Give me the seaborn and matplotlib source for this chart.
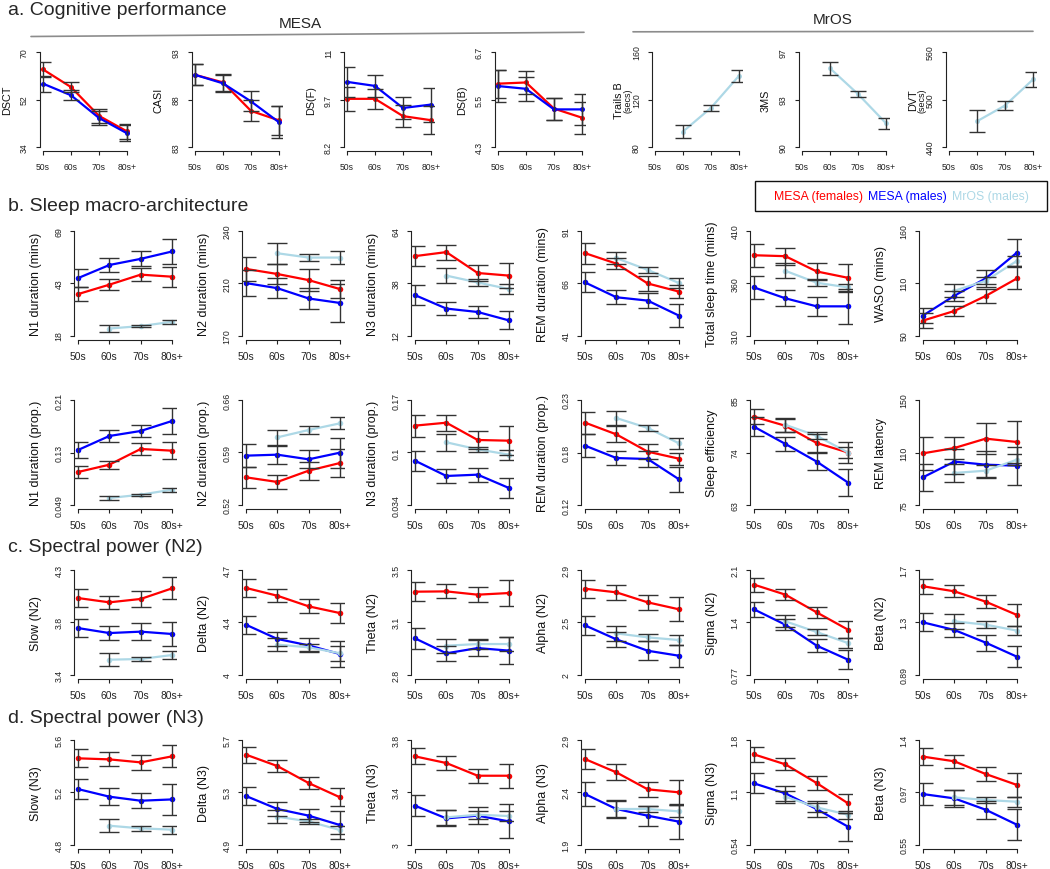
"""Age trends in cognition, sleep macro-architecture and spectral power (MESA / MrOS)."""

import matplotlib

matplotlib.use("Agg")

import matplotlib.pyplot as plt
import numpy as np
import pandas as pd
import seaborn as sns
from matplotlib.lines import Line2D
from matplotlib.patches import Rectangle

FIG_W, FIG_H = 1050, 870
DPI = 100
NA = np.nan

AGE_GROUPS = ["50s", "60s", "70s", "80s+"]
GROUP_NAMES = {"F": "MESA (females)", "M": "MESA (males)", "R": "MrOS (males)"}
PALETTE = {
    "MESA (females)": "#FF0000",
    "MESA (males)": "#0000FF",
    "MrOS (males)": "#ADD8E6",
}
BAR_COLOR = "#333333"

# ---- a. Cognitive performance: (means, error half-widths) per group ----
DSCT = {"F": ([63.4, 56.7, 45.8, 39.9], [3.0, 1.9, 2.6, 3.0]),
        "M": ([58.0, 53.6, 45.0, 39.2], [3.0, 1.9, 2.5, 3.0])}
CASI = {"F": ([90.6, 89.8, 86.8, 85.8], [1.1, 0.9, 1.1, 1.5]),
        "M": ([90.6, 89.7, 87.8, 85.6], [1.1, 0.9, 1.05, 1.7])}
DSF = {"F": ([9.62, 9.62, 9.11, 8.99], [0.35, 0.30, 0.32, 0.42]),
       "M": ([10.12, 10.0, 9.35, 9.45], [0.44, 0.33, 0.31, 0.50])}
DSB = {"F": ([5.90, 5.93, 5.27, 5.04], [0.35, 0.30, 0.28, 0.40]),
       "M": ([5.84, 5.77, 5.25, 5.25], [0.40, 0.30, 0.28, 0.40])}
TRAILS_B = {"R": ([NA, 93.0, 113.0, 140.0], [NA, 5.6, 2.6, 4.9])}
MS3 = {"R": ([NA, 95.8, 93.9, 91.75], [NA, 0.5, 0.25, 0.42])}
DVT = {"R": ([NA, 472.5, 492.4, 525.3], [NA, 14.0, 5.4, 9.0])}

# ---- b. Sleep macro-architecture ----
N1_MIN = {"F": ([38.2, 42.8, 47.7, 46.7], [3.6, 2.6, 3.3, 4.9]),
          "M": ([46.0, 52.4, 55.4, 59.0], [4.4, 3.3, 3.6, 6.2]),
          "R": ([NA, 21.4, 22.6, 24.7], [NA, 1.5, 0.5, 1.1])}
N2_MIN = {"F": ([214.6, 211.2, 207.1, 201.1], [8.3, 6.8, 7.4, 6.0]),
          "M": ([205.1, 201.7, 194.8, 191.8], [8.5, 6.8, 7.2, 13.0]),
          "R": ([NA, 225.1, 222.2, 222.2], [NA, 7.0, 2.5, 4.3])}
N3_MIN = {"F": ([51.5, 53.5, 43.1, 41.8], [5.0, 3.7, 4.0, 6.4]),
          "M": ([32.1, 25.4, 23.7, 19.5], [4.8, 3.1, 3.1, 4.5]),
          "R": ([NA, 41.8, 38.4, 35.1], [NA, 3.8, 1.7, 2.4])}
REM_MIN = {"F": ([80.4, 75.4, 65.9, 62.0], [5.0, 2.7, 3.7, 3.0]),
           "M": ([66.4, 59.3, 57.7, 50.5], [4.8, 3.3, 3.7, 5.6]),
           "R": ([NA, 78.0, 72.4, 66.1], [NA, 3.0, 1.6, 2.4])}
TST = {"F": ([386.8, 385.9, 371.3, 365.2], [11.0, 8.0, 8.3, 13.3]),
       "M": ([356.0, 345.6, 337.9, 337.9], [11.4, 7.6, 9.2, 16.5]),
       "R": ([NA, 371.9, 360.5, 356.0], [NA, 7.0, 3.5, 3.0])}
WASO = {"F": ([65.7, 75.8, 91.6, 110.1], [7.7, 5.6, 7.3, 11.5]),
        "M": ([71.0, 91.9, 110.1, 137.3], [7.7, 5.2, 8.7, 14.0]),
        "R": ([NA, 97.1, 107.6, 128.6], [NA, 7.0, 3.5, 5.0])}
N1_PROP = {"F": ([0.0996, 0.1108, 0.1349, 0.1323], [0.009, 0.006, 0.0097, 0.0128]),
           "M": ([0.1333, 0.1548, 0.1625, 0.1778], [0.0118, 0.0097, 0.0097, 0.020]),
           "R": ([NA, 0.0597, 0.0648, 0.0725], [NA, 0.0036, 0.0015, 0.003])}
N2_PROP = {"F": ([0.5569, 0.5507, 0.5658, 0.576], [0.014, 0.0098, 0.012, 0.019]),
           "M": ([0.5858, 0.5871, 0.5809, 0.5898], [0.0156, 0.012, 0.012, 0.020]),
           "R": ([NA, 0.6102, 0.620, 0.6289], [NA, 0.010, 0.005, 0.008])}
N3_PROP = {"F": ([0.1368, 0.1406, 0.1182, 0.1173], [0.0143, 0.0104, 0.0112, 0.0186]),
           "M": ([0.0914, 0.0716, 0.0733, 0.056], [0.013, 0.0086, 0.009, 0.0134]),
           "R": ([NA, 0.1152, 0.1061, 0.0992], [NA, 0.0108, 0.0035, 0.0065])}
REM_PROP = {"F": ([0.2063, 0.194, 0.1759, 0.1685], [0.0115, 0.0084, 0.008, 0.0063]),
            "M": ([0.1822, 0.1692, 0.1682, 0.1469], [0.012, 0.0077, 0.0084, 0.0133]),
            "R": ([NA, 0.2111, 0.2007, 0.1846], [NA, 0.0077, 0.0035, 0.0056])}
SLEEP_EFF = {"F": ([81.5, 79.6, 76.0, 74.0], [1.6, 1.4, 1.9, 2.3]),
             "M": ([79.4, 75.8, 72.1, 67.7], [2.0, 1.5, 1.7, 2.8]),
             "R": ([NA, 79.8, 77.5, 74.0], [NA, 1.4, 0.7, 1.2])}
REM_LAT = {"F": ([111.9, 115.7, 122.4, 120.0], [11.9, 8.0, 11.0, 15.0]),
           "M": ([94.8, 106.0, 103.8, 103.1], [9.5, 9.0, 9.8, 13.5]),
           "R": ([NA, 97.9, 99.5, 107.4], [NA, 6.6, 4.2, 4.0])}

# ---- c. Spectral power (N2) ----
SLOW_N2 = {"F": ([4.059, 4.022, 4.051, 4.142], [0.080, 0.057, 0.066, 0.095]),
           "M": ([3.801, 3.758, 3.770, 3.750], [0.080, 0.063, 0.072, 0.106]),
           "R": ([NA, 3.529, 3.535, 3.569], [NA, 0.054, 0.014, 0.034])}
DELTA_N2 = {"F": ([4.580, 4.528, 4.457, 4.412], [0.058, 0.042, 0.047, 0.067]),
            "M": ([4.334, 4.239, 4.196, 4.138], [0.060, 0.049, 0.047, 0.085]),
            "R": ([NA, 4.201, 4.183, 4.143], [NA, 0.042, 0.022, 0.050])}
THETA_N2 = {"F": ([3.355, 3.357, 3.335, 3.346], [0.063, 0.047, 0.049, 0.090]),
            "M": ([3.043, 2.943, 2.978, 2.961], [0.069, 0.051, 0.056, 0.090]),
            "R": ([NA, 2.994, 3.005, 3.005], [NA, 0.047, 0.033, 0.045])}
ALPHA_N2 = {"F": ([2.739, 2.708, 2.622, 2.562], [0.077, 0.066, 0.063, 0.103]),
            "M": ([2.424, 2.304, 2.206, 2.163], [0.083, 0.063, 0.083, 0.095]),
            "R": ([NA, 2.355, 2.321, 2.298], [NA, 0.063, 0.029, 0.040])}
SIGMA_N2 = {"F": ([1.914, 1.787, 1.562, 1.342], [0.089, 0.072, 0.072, 0.110]),
            "M": ([1.600, 1.405, 1.139, 0.961], [0.097, 0.072, 0.085, 0.119]),
            "R": ([NA, 1.448, 1.312, 1.172], [NA, 0.076, 0.038, 0.064])}
BETA_N2 = {"F": ([1.574, 1.535, 1.455, 1.352], [0.059, 0.046, 0.052, 0.085]),
           "M": ([1.295, 1.236, 1.138, 1.029], [0.070, 0.054, 0.062, 0.083]),
           "R": ([NA, 1.303, 1.277, 1.231], [NA, 0.057, 0.026, 0.036])}

# ---- d. Spectral power (N3) ----
SLOW_N3 = {"F": ([5.460, 5.452, 5.429, 5.475], [0.069, 0.054, 0.056, 0.084]),
           "M": ([5.225, 5.167, 5.136, 5.146], [0.076, 0.066, 0.056, 0.117]),
           "R": ([NA, 4.945, 4.925, 4.915], [NA, 0.048, 0.018, 0.031])}
DELTA_N3 = {"F": ([5.588, 5.501, 5.371, 5.262], [0.061, 0.043, 0.043, 0.069]),
            "M": ([5.272, 5.173, 5.122, 5.050], [0.066, 0.056, 0.051, 0.110]),
            "R": ([NA, 5.114, 5.078, 5.012], [NA, 0.051, 0.020, 0.033])}
THETA_N3 = {"F": ([3.675, 3.624, 3.527, 3.527], [0.061, 0.051, 0.054, 0.092]),
            "M": ([3.298, 3.201, 3.222, 3.178], [0.079, 0.061, 0.064, 0.130]),
            "R": ([NA, 3.209, 3.229, 3.219], [NA, 0.056, 0.031, 0.036])}
ALPHA_N3 = {"F": ([2.718, 2.591, 2.429, 2.400], [0.096, 0.076, 0.070, 0.120]),
            "M": ([2.384, 2.241, 2.177, 2.120], [0.115, 0.086, 0.096, 0.170]),
            "R": ([NA, 2.241, 2.241, 2.218], [NA, 0.080, 0.032, 0.057])}
SIGMA_N3 = {"F": ([1.627, 1.507, 1.282, 1.038], [0.092, 0.072, 0.080, 0.112]),
            "M": ([1.278, 1.158, 0.969, 0.757], [0.120, 0.088, 0.092, 0.170]),
            "R": ([NA, 1.118, 0.989, 0.901], [NA, 0.072, 0.052, 0.048])}
BETA_N3 = {"F": ([1.265, 1.227, 1.124, 1.035], [0.068, 0.051, 0.060, 0.095]),
           "M": ([0.961, 0.926, 0.834, 0.712], [0.089, 0.068, 0.073, 0.125]),
           "R": ([NA, 0.934, 0.913, 0.899], [NA, 0.062, 0.027, 0.040])}

# panel rows: (y label, y tick labels, series, unit sub-label)
ROW_A = [
    ("DSCT", ["34", "52", "70"], DSCT, None),
    ("CASI", ["83", "88", "93"], CASI, None),
    ("DS(F)", ["8.2", "9.7", "11"], DSF, None),
    ("DS(B)", ["4.3", "5.5", "6.7"], DSB, None),
    ("Trails B", ["80", "120", "160"], TRAILS_B, "(secs)"),
    ("3MS", ["90", "93", "97"], MS3, None),
    ("DVT", ["440", "500", "560"], DVT, "(secs)"),
]
ROW_B1 = [
    ("N1 duration (mins)", ["18", "43", "69"], N1_MIN, None),
    ("N2 duration (mins)", ["170", "210", "240"], N2_MIN, None),
    ("N3 duration (mins)", ["12", "38", "64"], N3_MIN, None),
    ("REM duration (mins)", ["41", "66", "91"], REM_MIN, None),
    ("Total sleep time (mins)", ["310", "360", "410"], TST, None),
    ("WASO (mins)", ["50", "110", "160"], WASO, None),
]
ROW_B2 = [
    ("N1 duration (prop.)", ["0.049", "0.13", "0.21"], N1_PROP, None),
    ("N2 duration (prop.)", ["0.52", "0.59", "0.66"], N2_PROP, None),
    ("N3 duration (prop.)", ["0.034", "0.1", "0.17"], N3_PROP, None),
    ("REM duration (prop.)", ["0.12", "0.18", "0.23"], REM_PROP, None),
    ("Sleep efficiency", ["63", "74", "85"], SLEEP_EFF, None),
    ("REM latency", ["75", "110", "150"], REM_LAT, None),
]
ROW_C = [
    ("Slow (N2)", ["3.4", "3.8", "4.3"], SLOW_N2, None),
    ("Delta (N2)", ["4", "4.4", "4.7"], DELTA_N2, None),
    ("Theta (N2)", ["2.8", "3.1", "3.5"], THETA_N2, None),
    ("Alpha (N2)", ["2", "2.5", "2.9"], ALPHA_N2, None),
    ("Sigma (N2)", ["0.77", "1.4", "2.1"], SIGMA_N2, None),
    ("Beta (N2)", ["0.89", "1.3", "1.7"], BETA_N2, None),
]
ROW_D = [
    ("Slow (N3)", ["4.8", "5.2", "5.6"], SLOW_N3, None),
    ("Delta (N3)", ["4.9", "5.3", "5.7"], DELTA_N3, None),
    ("Theta (N3)", ["3", "3.4", "3.8"], THETA_N3, None),
    ("Alpha (N3)", ["1.9", "2.4", "2.9"], ALPHA_N3, None),
    ("Sigma (N3)", ["0.54", "1.1", "1.8"], SIGMA_N3, None),
    ("Beta (N3)", ["0.55", "0.97", "1.4"], BETA_N3, None),
]

# pixel layout: x of the 50s tick per column, 50s->80s+ span, data top/bottom
COLS_A = [43, 195, 347, 498, 655, 802, 949]
COLS_BD = [78, 246, 415, 585, 754, 923]
ROWS_BD = [(232, 336.5), (401, 506), (571, 675.7), (741, 845.7)]


def configure_style() -> None:
    sns.set_theme(style="ticks", context="paper")
    plt.rcParams["font.family"] = ["Liberation Sans", "DejaVu Sans"]
    plt.rcParams["axes.linewidth"] = 0.8


def add_px_axes(fig, x50, span, top, bottom):
    """Axes whose 50s..80s+ and y tick range sit on given pixels (R-style 4% padding)."""
    pad_x = 0.04 * span
    pad_y = 0.04 * (bottom - top)
    left = x50 - pad_x
    width = span + 2 * pad_x
    height = (bottom - top) + 2 * pad_y
    y0 = FIG_H - (bottom + pad_y)
    return fig.add_axes([left / FIG_W, y0 / FIG_H, width / FIG_W, height / FIG_H])


def draw_panel(ax, ylabel, tick_labels, series, sub_label, small):
    rows = []
    for key, (means, errs) in series.items():
        for pos, (mean, err) in enumerate(zip(means, errs), start=1):
            rows.append({"age": pos, "value": mean, "err": err, "group": GROUP_NAMES[key]})
    frame = pd.DataFrame(rows).dropna()
    order = [GROUP_NAMES[k] for k in series]

    sns.lineplot(
        data=frame, x="age", y="value", hue="group", hue_order=order,
        palette=PALETTE, marker="o", markersize=3.6 if small else 4,
        markeredgewidth=0, linewidth=1.6, legend=False, errorbar=None, ax=ax,
    )
    for name in order:
        sub = frame[frame["group"] == name]
        ax.errorbar(
            sub["age"], sub["value"], yerr=sub["err"], fmt="none",
            ecolor=BAR_COLOR, elinewidth=1.0, capsize=5.5 if small else 7.5,
            capthick=1.0, zorder=4,
        )

    lo, hi = float(tick_labels[0]), float(tick_labels[-1])
    rng = hi - lo
    ax.set_xlim(0.88, 4.12)
    ax.set_ylim(lo - 0.04 * rng, hi + 0.04 * rng)
    ax.set_xticks([1, 2, 3, 4])
    ax.set_xticklabels(AGE_GROUPS)
    ax.set_yticks([lo, (lo + hi) / 2, hi])
    ax.set_yticklabels(tick_labels)
    for label in ax.get_yticklabels():
        label.set_rotation(90)
        label.set_va("center")

    for side in ["top", "right"]:
        ax.spines[side].set_visible(False)
    ax.spines["left"].set_bounds(lo, hi)
    ax.spines["bottom"].set_bounds(1, 4)
    for side in ["left", "bottom"]:
        ax.spines[side].set_color("#222222")

    ax.tick_params(axis="both", length=2.8, width=0.8, color="#222222",
                   labelcolor="#222222")
    ax.tick_params(axis="x", labelsize=6.2 if small else 7.4, pad=5)
    ax.tick_params(axis="y", labelsize=6.3, pad=5)

    ax.set_xlabel("")
    ax.set_ylabel(ylabel, fontsize=7.8 if small else 9.0, color="#111111")
    width_px = ax.get_position().width * FIG_W
    ax.yaxis.set_label_coords((-28 if small else -32) / width_px, 0.5)
    if sub_label:
        ax.text(-19 / width_px, 0.5, sub_label, transform=ax.transAxes,
                rotation=90, ha="right", va="center", fontsize=6.5,
                color="#111111")
    ax.grid(False)


def add_headers(fig):
    def fy(y):
        return 1 - y / FIG_H

    titles = [
        ("a. Cognitive performance", 15),
        ("b. Sleep macro-architecture", 211),
        ("c. Spectral power (N2)", 552),
        ("d. Spectral power (N3)", 723),
    ]
    for text, y in titles:
        fig.text(8 / FIG_W, fy(y), text, fontsize=14, va="baseline", ha="left")

    fig.text(300 / FIG_W, fy(23.5), "MESA", fontsize=11, ha="center", va="center")
    fig.text(833 / FIG_W, fy(20.5), "MrOS", fontsize=11, ha="center", va="center")
    fig.add_artist(Line2D([31 / FIG_W, 584 / FIG_W], [fy(37.5), fy(33.3)],
                          color="#8c8c8c", linewidth=1.2))
    fig.add_artist(Line2D([633 / FIG_W, 1033 / FIG_W], [fy(32.8), fy(32.3)],
                          color="#8c8c8c", linewidth=1.2))

    # legend box
    fig.add_artist(Rectangle((755 / FIG_W, fy(212)), 292 / FIG_W, 30 / FIG_H,
                             fill=False, edgecolor="#111111", linewidth=1.0))
    legend_items = [("MESA (females)", 818), ("MESA (males)", 907), ("MrOS (males)", 990)]
    for name, x in legend_items:
        fig.text(x / FIG_W, fy(197), name, color=PALETTE[name], fontsize=8.8,
                 ha="center", va="center")


def main() -> None:
    configure_style()
    fig = plt.figure(figsize=(FIG_W / DPI, FIG_H / DPI), dpi=DPI)

    for x50, panel in zip(COLS_A, ROW_A):
        ax = add_px_axes(fig, x50, 84, 53, 148)
        draw_panel(ax, *panel, small=True)

    for (top, bottom), row in zip(ROWS_BD, [ROW_B1, ROW_B2, ROW_C, ROW_D]):
        for x50, panel in zip(COLS_BD, row):
            ax = add_px_axes(fig, x50, 94, top, bottom)
            draw_panel(ax, *panel, small=False)

    add_headers(fig)
    fig.savefig("out.png", dpi=DPI)
    plt.close(fig)


if __name__ == "__main__":
    main()
